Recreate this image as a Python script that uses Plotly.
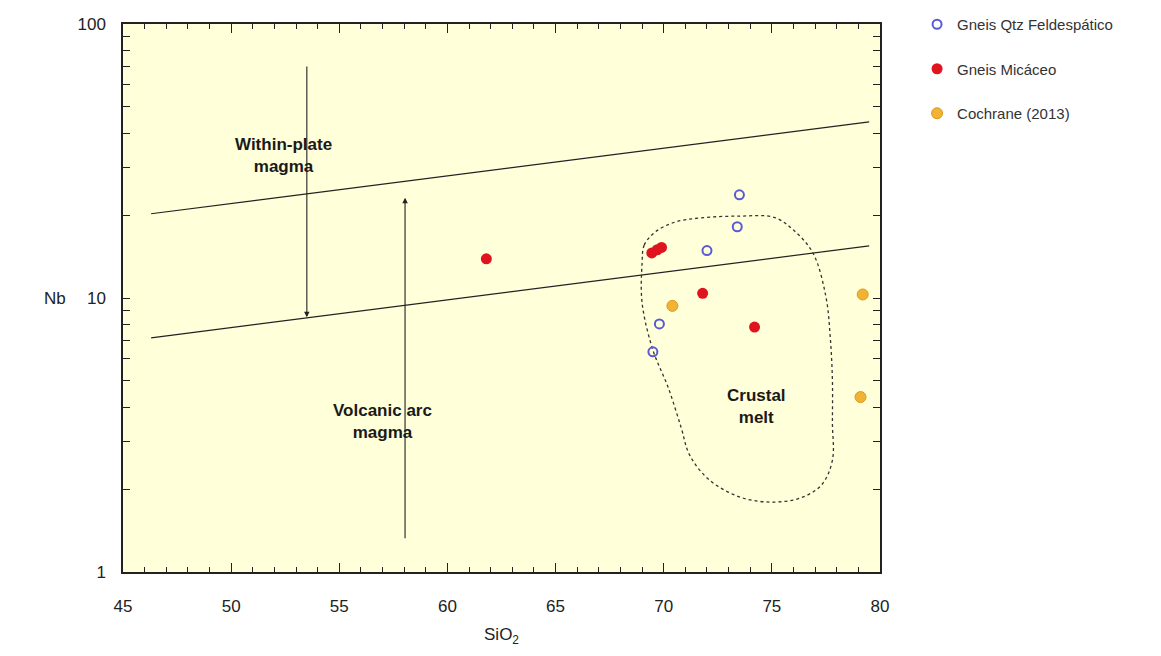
import numpy as np
import plotly.graph_objects as go

# ---- data ----
qtz_sio2 = [73.5, 73.4, 72.0, 69.8, 69.5]
qtz_nb = [23.8, 18.2, 14.9, 8.04, 6.36]

mica_sio2 = [61.8, 69.45, 69.7, 69.9, 71.8, 74.2]
mica_nb = [13.9, 14.6, 15.0, 15.3, 10.4, 7.83]

coch_sio2 = [70.4, 79.2, 79.1]
coch_nb = [9.36, 10.3, 4.35]

# boundary lines (SiO2, Nb)
upper_x = [46.3, 79.5]
upper_y = [20.3, 43.9]
lower_x = [46.3, 79.5]
lower_y = [7.15, 15.5]

# crustal melt field outline
melt_x = [69.0, 69.1, 69.6, 70.5, 71.7, 73.5, 75.1, 76.0, 76.9, 77.5, 77.7, 77.8,
          77.8, 77.8, 77.3, 76.3, 74.9, 73.5, 72.1, 71.2, 70.8, 70.2, 69.5, 69.0, 69.0]
melt_y = [13.4, 15.6, 17.4, 18.9, 19.6, 19.9, 19.7, 17.7, 14.6, 10.1, 7.2, 5.0,
          3.5, 2.56, 2.08, 1.86, 1.80, 1.88, 2.17, 2.67, 3.38, 4.73, 6.46, 9.6, 13.4]

# arrows: (x, y_from, y_to)
arrow_down = (53.5, 70.8, 8.5)
arrow_up = (58.04, 1.31, 23.2)

x_ticks = [45, 50, 55, 60, 65, 70, 75, 80]
y_major = [1, 10, 100]

BG = "#FFFFDA"
FONT = "Liberation Sans, Arial"

fig = go.Figure()

for xs, ys in [(upper_x, upper_y), (lower_x, lower_y)]:
    fig.add_trace(go.Scatter(x=xs, y=ys, mode="lines", line=dict(color="#222", width=1.2),
                             showlegend=False, hoverinfo="skip"))

fig.add_trace(go.Scatter(x=melt_x, y=melt_y, mode="lines",
                         line=dict(color="#333", width=1.3, dash="3px,3px", shape="spline", smoothing=1.0),
                         showlegend=False, hoverinfo="skip"))

fig.add_trace(go.Scatter(x=qtz_sio2, y=qtz_nb, mode="markers", name="Gneis Qtz Feldespático",
                         legendgroup="a",
                         marker=dict(symbol="circle-open", size=9, color="#5A5AD8", line=dict(width=2))))
fig.add_trace(go.Scatter(x=mica_sio2, y=mica_nb, mode="markers", name="Gneis Micáceo",
                         legendgroup="b",
                         marker=dict(symbol="circle", size=11, color="#E0141E")))
fig.add_trace(go.Scatter(x=coch_sio2, y=coch_nb, mode="markers", name="Cochrane (2013)",
                         legendgroup="c",
                         marker=dict(symbol="circle", size=11, color="#F2B233",
                                     line=dict(color="#D99A20", width=1))))

# arrows
for (ax_x, y0, y1) in [arrow_down, arrow_up]:
    fig.add_annotation(x=ax_x, y=np.log10(y1), ax=ax_x, ay=np.log10(y0),
                       xref="x", yref="y", axref="x", ayref="y",
                       showarrow=True, arrowhead=2, arrowsize=1, arrowwidth=1.1,
                       arrowcolor="#222", text="")

labels = [("Within-plate<br>magma", 52.4, 33.0),
          ("Volcanic arc<br>magma", 57.0, 3.53),
          ("Crustal<br>melt", 74.3, 4.03)]
for txt, lx, ly in labels:
    fig.add_annotation(x=lx, y=np.log10(ly), xref="x", yref="y", text="<b>" + txt + "</b>",
                       showarrow=False, font=dict(family=FONT, size=17, color="#1a1a1a"))

fig.add_annotation(x=-0.107, y=0.5, xref="paper", yref="paper", text="Nb", showarrow=False,
                   font=dict(family=FONT, size=17, color="#222"))

y_tickvals = [m * 10 ** e for e in range(0, 2) for m in range(1, 10)] + [100]
y_ticktext = [str(v) if v in y_major else "" for v in y_tickvals]

common_x = dict(range=[45, 80], tickvals=x_ticks, ticks="inside", ticklen=9, tickwidth=1.2,
                tickcolor="#222", showgrid=False, zeroline=False,
                minor=dict(dtick=1, ticks="inside", ticklen=5, tickwidth=1.2, tickcolor="#222", showgrid=False))

fig.update_layout(
    width=1161, height=656,
    margin=dict(l=115, r=289, t=16, b=92, autoexpand=False),
    paper_bgcolor="white", plot_bgcolor=BG,
    font=dict(family=FONT, size=17, color="#222"),
    showlegend=True,
    legend=dict(xref="container", yref="container", x=0.783, y=1.0, xanchor="left", yanchor="top",
                bgcolor="rgba(0,0,0,0)",
                font=dict(size=15, color="#333"), tracegroupgap=22, itemwidth=30),
    xaxis=dict(**common_x, showline=True, linecolor="#222", linewidth=1.5, mirror=True,
               ticklabelstandoff=18,
               title=dict(text="SiO<sub>2</sub>", font=dict(size=17), standoff=13)),
    xaxis2=dict(**common_x, overlaying="x", side="top", anchor="y", showticklabels=False),
    yaxis=dict(type="log", range=[0, 2], tickvals=y_tickvals, ticktext=y_ticktext,
               ticks="inside", ticklen=7, tickwidth=1.2, tickcolor="#222",
               showline=True, linecolor="#222", linewidth=1.5, mirror="ticks",
               ticklabelstandoff=12,
               showgrid=False, zeroline=False),
)

# invisible trace to anchor the top axis
fig.add_trace(go.Scatter(x=[45], y=[1], xaxis="x2", mode="markers", marker=dict(opacity=0),
                         showlegend=False, hoverinfo="skip"))

fig.write_html("out.html")
